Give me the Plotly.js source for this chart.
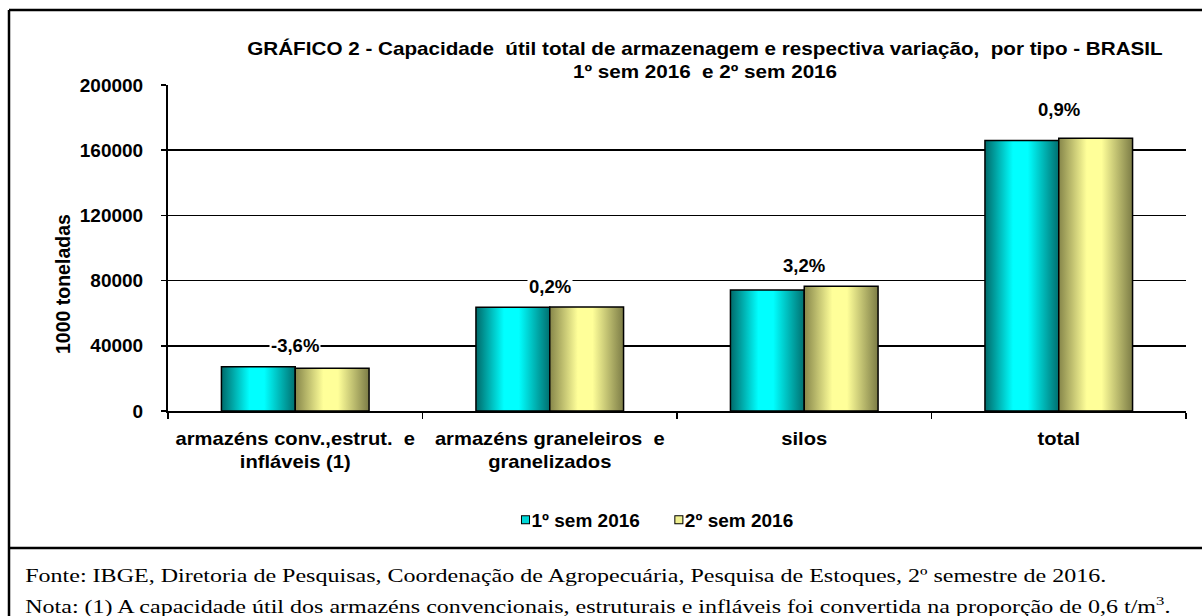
<!DOCTYPE html>
<html>
<head>
<meta charset="utf-8">
<script src="https://cdn.plot.ly/plotly-3.0.1.min.js"></script>
<style>
  html, body { margin: 0; padding: 0; background: #fff; }
  #chart { width: 1202px; height: 616px; }
</style>
</head>
<body>
<div id="chart"></div>
<script>
// ---- data ----
const categories = [
  'armazéns conv.,estrut.  e<br>infláveis (1)',
  'armazéns graneleiros  e<br>granelizados',
  'silos',
  'total'
];
const seriesNames = ['1º sem 2016', '2º sem 2016'];
const sem1 = [27200, 63600, 74300, 165900];
const sem2 = [26200, 63750, 76600, 167300];
const variationLabels = ['-3,6%', '0,2%', '3,2%', '0,9%'];
const yTickValues = [0, 40000, 80000, 120000, 160000, 200000];
const yTickLabels = ['0', '40000', '80000', '120000', '160000', '200000'];

const titleText = 'GRÁFICO 2 - Capacidade  útil total de armazenagem e respectiva variação,  por tipo - BRASIL<br>1º sem 2016  e 2º sem 2016';
const yTitle = '1000 toneladas';
const sourceText = 'Fonte: IBGE, Diretoria de Pesquisas, Coordenação de Agropecuária, Pesquisa de Estoques, 2º semestre de 2016.';
const noteText = 'Nota: (1) A capacidade útil dos armazéns convencionais, estruturais e infláveis foi convertida na proporção de 0,6 t/m<sup>3</sup>.';

// ---- styling ----
const SANS = '"Liberation Sans", Arial, sans-serif';
const SERIF = '"Liberation Serif", "Times New Roman", serif';
const boldFont = {family: SANS, size: 18, color: '#000', weight: 700};

const traces = [
  {type: 'bar', name: seriesNames[0], x: categories, y: sem1,
   marker: {color: '#00d8d8', line: {color: '#000', width: 1.5}}},
  {type: 'bar', name: seriesNames[1], x: categories, y: sem2,
   marker: {color: '#f0f090', line: {color: '#000', width: 1.5}}}
];

const labelShift = [21, 21, 21, 29];
const annotations = variationLabels.map((t, i) => ({
  x: categories[i], y: Math.max(sem1[i], sem2[i]), xref: 'x', yref: 'y',
  text: t, showarrow: false, yanchor: 'middle', xanchor: 'center',
  yshift: labelShift[i], bgcolor: '#fff', borderpad: 1,
  font: Object.assign({}, boldFont, {size: 18.5})
}));

// pixel helpers for paper coords (plot area: x 168..1186, y 85..411)
const px = v => (v - 168) / 1018;
const py = v => (411 - v) / 326;

annotations.push({
  xref: 'paper', yref: 'paper', x: px(63), y: py(284), text: yTitle,
  textangle: -90, showarrow: false, xanchor: 'center', yanchor: 'middle',
  font: Object.assign({}, boldFont, {size: 19.5})
});
annotations.push({
  xref: 'paper', yref: 'paper', x: px(23), y: py(575.5), text: sourceText,
  showarrow: false, xanchor: 'left', yanchor: 'middle',
  font: {family: SERIF, size: 19, color: '#000'}
});
annotations.push({
  xref: 'paper', yref: 'paper', x: px(23), y: py(605), text: noteText,
  showarrow: false, xanchor: 'left', yanchor: 'middle',
  font: {family: SERIF, size: 19, color: '#000'}
});

const shapes = [
  {type: 'line', xref: 'paper', yref: 'paper', x0: px(9), x1: px(1215), y0: py(10), y1: py(10), line: {color: '#000', width: 2.5}},
  {type: 'line', xref: 'paper', yref: 'paper', x0: px(9), x1: px(9), y0: py(10), y1: py(630), line: {color: '#000', width: 2.5}},
  {type: 'line', xref: 'paper', yref: 'paper', x0: px(9), x1: px(1215), y0: py(548), y1: py(548), line: {color: '#000', width: 2.5}}
];

const layout = {
  width: 1202, height: 616,
  margin: {l: 168, r: 16, t: 85, b: 205, pad: 0},
  paper_bgcolor: '#fff', plot_bgcolor: '#fff',
  font: {family: SANS, size: 18, color: '#000'},
  title: {text: titleText, font: boldFont, x: 705 / 1202, xanchor: 'center',
          xref: 'container', yref: 'container', y: 1 - 55 / 616, yanchor: 'top'},
  barmode: 'group', bargap: 0.42, bargroupgap: 0,
  showlegend: true,
  legend: {orientation: 'h', x: px(645), xanchor: 'center', y: py(520), yanchor: 'middle',
           font: Object.assign({}, boldFont, {size: 19}), bgcolor: 'rgba(0,0,0,0)', itemwidth: 30, traceorder: 'normal'},
  xaxis: {type: 'category', showline: true, linecolor: '#000', linewidth: 2,
          ticks: 'outside', tickson: 'boundaries', ticklen: 6, tickcolor: '#000', tickwidth: 1.5,
          tickfont: boldFont, showgrid: false, zeroline: false, ticklabelstandoff: 10,
          automargin: false},
  yaxis: {range: [0, 200000], tickvals: yTickValues, ticktext: yTickLabels,
          showline: true, linecolor: '#000', linewidth: 2,
          ticks: 'outside', ticklen: 5, tickcolor: '#000', tickwidth: 1.5,
          showgrid: true, gridcolor: '#000', gridwidth: 1.5, zeroline: false,
          tickfont: Object.assign({}, boldFont, {size: 19}), ticklabelstandoff: 14, automargin: false},
  annotations: annotations,
  shapes: shapes
};

// horizontal stretch in the element's own coordinates (applied before any existing transform)
function stretchX(el, k, anchor) {
  if (!el) return;
  const b = el.getBBox();
  const x0 = anchor === 'left' ? b.x : b.x + b.width / 2;
  const prev = el.getAttribute('transform') || '';
  el.setAttribute('transform', prev + ' translate(' + x0 + ',0) scale(' + k + ',1) translate(' + (-x0) + ',0)');
}

const gd = document.getElementById('chart');
Plotly.newPlot(gd, traces, layout, {staticPlot: true, displayModeBar: false}).then(() => {
  const ns = 'http://www.w3.org/2000/svg';
  const svg = gd.querySelector('svg.main-svg');
  let defs = svg.querySelector('defs');
  if (!defs) { defs = document.createElementNS(ns, 'defs'); svg.insertBefore(defs, svg.firstChild); }
  function grad(id, stops) {
    const g = document.createElementNS(ns, 'linearGradient');
    g.setAttribute('id', id);
    g.setAttribute('x1', '0'); g.setAttribute('x2', '1');
    g.setAttribute('y1', '0'); g.setAttribute('y2', '0');
    stops.forEach(([o, c]) => {
      const s = document.createElementNS(ns, 'stop');
      s.setAttribute('offset', o); s.setAttribute('stop-color', c);
      g.appendChild(s);
    });
    defs.appendChild(g);
  }
  grad('gradCyan', [[0, '#006a6a'], [0.38, '#00ffff'], [0.58, '#00ffff'], [1, '#007070']]);
  grad('gradYel', [[0, '#86864a'], [0.38, '#ffff99'], [0.58, '#ffff99'], [1, '#7c7c46']]);
  const ids = ['gradCyan', 'gradYel'];
  gd.querySelectorAll('.barlayer .trace').forEach((t, i) => {
    t.querySelectorAll('path').forEach(p => { p.style.fill = 'url(#' + ids[i] + ')'; });
  });

  // Reference text is horizontally wide: stretch some texts to match
  stretchX(gd.querySelector('.g-gtitle text'), 1.148, 'center');
  gd.querySelectorAll('.xtick text').forEach(t => stretchX(t, 1.12, 'center'));
  gd.querySelectorAll('.annotation').forEach(a => {
    const idx = +a.getAttribute('data-index');
    if (idx === 5 || idx === 6) stretchX(a.querySelector('text'), 1.265, 'left');
  });

  // smaller legend swatches placed close to text
  gd.querySelectorAll('.legend .legendpoints path').forEach(p => {
    const prev = p.getAttribute('transform') || '';
    p.setAttribute('transform', prev + ' translate(14,0) scale(0.67)');
  });
});
</script>
</body>
</html>
